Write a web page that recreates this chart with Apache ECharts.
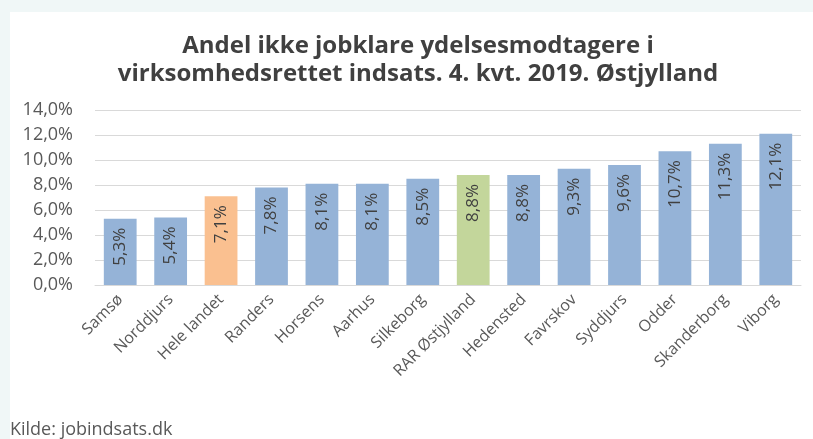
<!DOCTYPE html>
<html style="height: 100%">
<head>
    <meta charset="utf-8">
    <script src="https://cdn.jsdelivr.net/npm/echarts@6/dist/echarts.min.js"></script>
</head>
<body style="height: 100%; margin: 0; background: #f0f7f7">
    <div id="container" style="position: absolute; left: 10px; top: 12px; width: 803px; height: 427px; background: #ffffff"></div>
    <div style="position: absolute; left: 10px; top: 416px; font: 18px 'Open Sans', sans-serif; color: #595959">Kilde: jobindsats.dk</div>
    <script type="text/javascript">
        var categories = ['Samsø', 'Norddjurs', 'Hele landet', 'Randers', 'Horsens', 'Aarhus', 'Silkeborg',
            'RAR Østjylland', 'Hedensted', 'Favrskov', 'Syddjurs', 'Odder', 'Skanderborg', 'Viborg'];
        var values = [5.3, 5.4, 7.1, 7.8, 8.1, 8.1, 8.5, 8.8, 8.8, 9.3, 9.6, 10.7, 11.3, 12.1];
        var barColors = ['#95b3d7', '#95b3d7', '#fac090', '#95b3d7', '#95b3d7', '#95b3d7', '#95b3d7',
            '#c3d69b', '#95b3d7', '#95b3d7', '#95b3d7', '#95b3d7', '#95b3d7', '#95b3d7'];

        function pct(v) {
            return v.toFixed(1).replace('.', ',') + '%';
        }

        var myChart = echarts.init(document.getElementById('container'));
        var font = "'Open Sans', sans-serif";

        var option = {
            animation: false,
            title: {
                text: 'Andel ikke jobklare ydelsesmodtagere i\nvirksomhedsrettet indsats. 4. kvt. 2019. Østjylland',
                left: 403,
                top: 15,
                textAlign: 'center',
                textStyle: {
                    fontFamily: font,
                    fontSize: 24,
                    fontWeight: 'bold',
                    color: '#404040',
                    lineHeight: 28
                }
            },
            grid: {
                left: 85,
                right: 12,
                top: 98,
                bottom: 154
            },
            xAxis: {
                type: 'category',
                data: categories,
                axisLine: { lineStyle: { color: '#d9d9d9' } },
                axisTick: { show: false },
                axisLabel: {
                    interval: 0,
                    rotate: 45,
                    margin: 12,
                    fontFamily: font,
                    fontSize: 16,
                    color: '#595959'
                }
            },
            yAxis: {
                type: 'value',
                min: 0,
                max: 14,
                interval: 2,
                axisLine: { show: false },
                axisTick: { show: false },
                splitLine: { lineStyle: { color: '#d9d9d9' } },
                axisLabel: {
                    margin: 22,
                    fontFamily: font,
                    fontSize: 18,
                    color: '#595959',
                    formatter: pct
                }
            },
            series: [{
                type: 'bar',
                barCategoryGap: '35%',
                data: values.map(function (v, i) {
                    return { value: v, itemStyle: { color: barColors[i] } };
                }),
                label: {
                    show: true,
                    position: 'insideTop',
                    rotate: 90,
                    align: 'right',
                    verticalAlign: 'middle',
                    distance: 9,
                    fontFamily: font,
                    fontSize: 17,
                    color: '#404040',
                    formatter: function (p) { return pct(p.value); }
                }
            }]
        };
        myChart.setOption(option);
    </script>
</body>
</html>
